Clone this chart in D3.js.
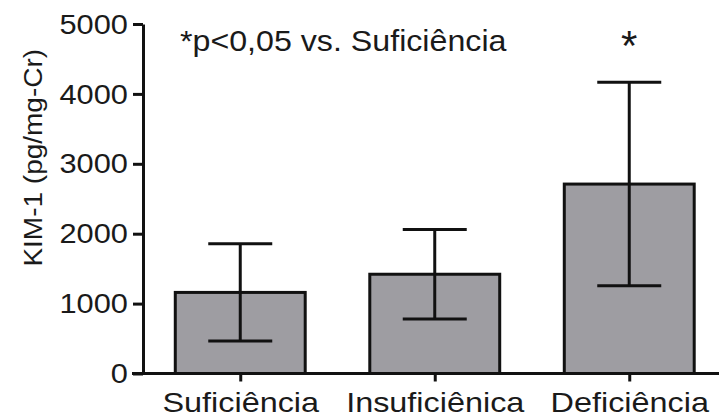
<!DOCTYPE html>
<html>
<head>
<meta charset="utf-8">
<title>KIM-1</title>
<script src="https://d3js.org/d3.v7.min.js"></script>
<style>
  body { margin: 0; background: #fff; }
  text { font-family: "Liberation Sans", Arial, sans-serif; fill: #1a1a1a; }
</style>
</head>
<body>
<div id="chart"></div>
<script>
// dados
let categorias = ["Suficiência", "Insuficiênica", "Deficiência"];
let medias = [1160, 1420, 2710];
let desvios = [695, 640, 1455];
let significativo = [false, false, true];
let yTicks = [0, 1000, 2000, 3000, 4000, 5000];

let W = 719, H = 419;
let svg = d3.select("#chart").append("svg")
    .attr("width", W).attr("height", H);

let x = d3.scalePoint()
    .domain(categorias)
    .range([143, 726.5])
    .padding(0.5);
let barW = x.step() * 0.668;

let y = d3.scaleLinear()
    .domain([0, 5000])
    .range([373.5, 24]);

let lw = 3;

// barras
svg.selectAll("rect.bar")
    .data(categorias)
    .enter().append("rect")
    .attr("class", "bar")
    .attr("x", d => x(d) - barW / 2)
    .attr("y", (d, i) => y(medias[i]))
    .attr("width", barW)
    .attr("height", (d, i) => y(0) - y(medias[i]))
    .attr("fill", "#9e9da2")
    .attr("stroke", "#111")
    .attr("stroke-width", lw);

// barras de erro
let capW = 64;
let eg = svg.selectAll("g.err")
    .data(categorias)
    .enter().append("g")
    .attr("class", "err")
    .attr("stroke", "#111")
    .attr("stroke-width", lw);
eg.append("line")
    .attr("x1", d => x(d)).attr("x2", d => x(d))
    .attr("y1", (d, i) => y(medias[i] + desvios[i]))
    .attr("y2", (d, i) => y(medias[i] - desvios[i]));
eg.append("line")
    .attr("x1", d => x(d) - capW / 2).attr("x2", d => x(d) + capW / 2)
    .attr("y1", (d, i) => y(medias[i] + desvios[i]))
    .attr("y2", (d, i) => y(medias[i] + desvios[i]));
eg.append("line")
    .attr("x1", d => x(d) - capW / 2).attr("x2", d => x(d) + capW / 2)
    .attr("y1", (d, i) => y(medias[i] - desvios[i]))
    .attr("y2", (d, i) => y(medias[i] - desvios[i]));

// eixo y
let yAxis = svg.append("g")
    .attr("transform", "translate(143,0)")
    .call(d3.axisLeft(y).tickValues(yTicks).tickFormat(d3.format("d"))
        .tickSize(10).tickSizeOuter(0).tickPadding(4));
yAxis.select(".domain").attr("stroke", "#111").attr("stroke-width", lw);
yAxis.selectAll(".tick line").attr("stroke", "#111").attr("stroke-width", lw);
yAxis.selectAll(".tick text")
    .attr("transform", "scale(1.08,1)")
    .style("font-size", "28.5px")
    .style("font-family", "'Liberation Sans', Arial, sans-serif")
    .attr("fill", "#1a1a1a");

// eixo x
let xAxis = svg.append("g")
    .attr("transform", "translate(0," + y(0) + ")")
    .call(d3.axisBottom(x).tickSize(8).tickSizeOuter(0).tickPadding(11));
xAxis.select(".domain").attr("d", "M132,0H719").attr("stroke", "#111").attr("stroke-width", lw);
xAxis.selectAll(".tick line").attr("stroke", "#111").attr("stroke-width", lw);
xAxis.selectAll(".tick text")
    .attr("transform", "scale(1.2,1)")
    .style("font-size", "27px")
    .style("font-family", "'Liberation Sans', Arial, sans-serif")
    .attr("fill", "#1a1a1a");

// título do eixo y
svg.append("text")
    .attr("transform", "translate(42," + ((y(0) + y(5000)) / 2 - 41) + ") rotate(-90) scale(1.12,1)")
    .attr("text-anchor", "middle")
    .style("font-size", "25px")
    .text("KIM-1 (pg/mg-Cr)");

// anotação
svg.append("text")
    .attr("transform", "translate(180,51) scale(1.11,1)")
    .style("font-size", "29px")
    .text("*p<0,05 vs. Suficiência");

// asterisco de significância
svg.selectAll("text.sig")
    .data(categorias.filter((d, i) => significativo[i]))
    .enter().append("text")
    .attr("class", "sig")
    .attr("x", d => x(d))
    .attr("y", 60)
    .attr("text-anchor", "middle")
    .style("font-size", "42px")
    .text("*");
</script>
</body>
</html>
